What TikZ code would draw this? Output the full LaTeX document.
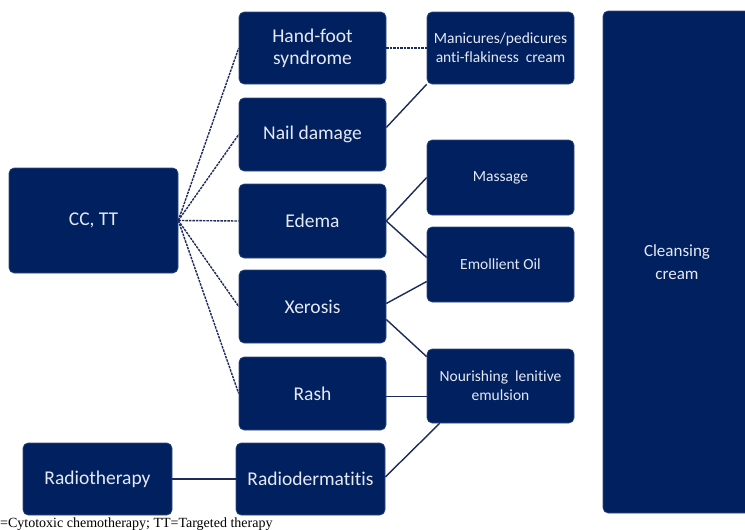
\documentclass[tikz,border=0pt]{standalone}
\usepackage{fontspec}
\setmainfont{Carlito}[Ligatures={NoCommon}]
\newfontfamily\notefont{Liberation Serif}
\usetikzlibrary{calc}
\definecolor{navy}{HTML}{002060}
\definecolor{txt}{HTML}{E6E9F2}
\definecolor{ln}{HTML}{1C2A5C}
\begin{document}
\begin{tikzpicture}[x=1pt,y=-1pt,
  box/.style={fill=navy, draw=navy!80!white, line width=0.6pt, rounded corners=5pt,
    text=txt, align=center, inner sep=0pt, font=\fontsize{19.5}{22}\selectfont},
  sbox/.style={box, font=\fontsize{15.5}{19}\selectfont},
  conn/.style={draw=ln, line width=1.4pt},
  dconn/.style={conn, dash pattern=on 2.5pt off 1pt}]
\useasboundingbox (0,0) rectangle (745,530);
\fill[white] (0,0) rectangle (745,530);

% left column
\node[box, minimum width=169pt, minimum height=105pt] (cc) at (93.5,220.5) {CC, TT};
\node[box, minimum width=149pt, minimum height=72pt] (radt) at (97.5,479) {Radiotherapy};

% middle column
\node[box, minimum width=147pt, minimum height=72pt] (hf) at (312.5,48) {Hand-foot\\syndrome};
\node[box, minimum width=147pt, minimum height=73pt] (nail) at (312.5,134.5) {Nail damage};
\node[box, minimum width=147pt, minimum height=74pt] (edema) at (312.5,221) {Edema};
\node[box, minimum width=147pt, minimum height=73pt] (xer) at (312.5,306.5) {Xerosis};
\node[box, minimum width=147pt, minimum height=73pt] (rash) at (312.5,393.5) {Rash};
\node[box, minimum width=149pt, minimum height=72pt] (radd) at (310.5,479) {Radiodermatitis};

% treatment column
\node[sbox, minimum width=147pt, minimum height=72pt] (man) at (500.5,48) {Manicures/pedicures\\anti-flakiness\ \ cream};
\node[sbox, minimum width=147pt, minimum height=75pt] (mass) at (500.5,177.5) {Massage};
\node[sbox, minimum width=147pt, minimum height=75pt] (emo) at (500.5,264.5) {Emollient Oil};
\node[sbox, minimum width=147pt, minimum height=74pt] (nour) at (500.5,386) {Nourishing\ \ lenitive\\emulsion};

% right column
\node[box, font=\fontsize{17}{23}\selectfont, minimum width=148pt, minimum height=502pt] (cle) at (677,262) {Cleansing\\cream};

% connectors
\draw[dconn] (cc.east) -- (hf.west);
\draw[dconn] (cc.east) -- (nail.west);
\draw[dconn] (cc.east) -- (edema.west);
\draw[dconn] (cc.east) -- (xer.west);
\draw[dconn] (cc.east) -- (rash.west);
\draw[dconn] (hf.east) -- (man.west);
\draw[conn] ($(nail.east)+(0,-7)$) -- (man.south west);
\draw[conn] (edema.east) -- (mass.west);
\draw[conn] (edema.east) -- ($(emo.west)+(0,-7)$);
\draw[conn] ($(xer.east)+(0,-3)$) -- ($(emo.west)+(0,17)$);
\draw[conn] ($(xer.east)+(0,13)$) -- ($(nour.north west)+(0,8)$);
\draw[conn] ($(rash.east)+(0,3)$) -- ($(nour.west)+(0,10.5)$);
\draw[conn] ($(radd.east)+(0,-2)$) -- ($(nour.south west)+(13,0)$);
\draw[conn] (radt.east) -- (radd.west);

% footnote
\node[anchor=base west, inner sep=0pt, font=\notefont\fontsize{14}{16}\selectfont] (note) at (0,527) {=Cytotoxic chemotherapy; TT=Targeted therapy};
\end{tikzpicture}
\end{document}
